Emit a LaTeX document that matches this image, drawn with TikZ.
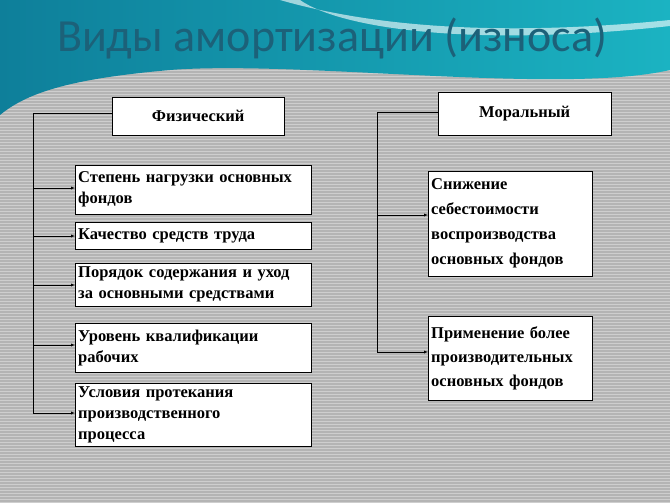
\documentclass[tikz,border=0pt]{standalone}
\usepackage{fontspec}
\setmainfont{Liberation Serif}
\newfontfamily\titlefont{Carlito}
\usepackage{xcolor}
\usetikzlibrary{patterns}
\definecolor{hatch}{HTML}{B4B4B4}
\definecolor{teal1}{HTML}{0E7F9A}
\definecolor{teal2}{HTML}{1BB3C2}
\definecolor{titlecol}{HTML}{1C6179}
\tikzset{
	fbox/.style={draw=black, fill=white, anchor=north west, inner sep=3pt,
		font=\bfseries\fontsize{16.5}{21}\selectfont, align=left},
	conn/.style={draw=black, thin},
	arr/.style={draw=black, thin, -latex}
}
\begin{document}
\begin{tikzpicture}[x=1pt, y=-1pt]
	\useasboundingbox (0,0) rectangle (670,503);
	\fill[hatch] (0,0) rectangle (670,503);
	\fill[pattern=horizontal lines, pattern color=white!35!hatch] (0,0) rectangle (670,503);
	\shade[left color=teal1, right color=teal2] (0,0) -- (670,0) -- (670,70) .. controls (560,95) and (300,60) .. (170,70) .. controls (80,78) and (30,90) .. (0,115) -- cycle;
	\fill[white, opacity=0.6] (280,0) .. controls (350,20) and (470,40) .. (670,20) -- (670,26) .. controls (470,48) and (340,28) .. (300,0) -- cycle;
	\node[titlecol, font=\titlefont\fontsize{46}{50}\selectfont] (title) at (332,38) {Виды амортизации (износа)};
	% left column
	\node[fbox, minimum width=172pt, minimum height=38pt, align=center, text width=164pt] (phys) at (112,97) {Физический};
	\node[fbox, text width=230pt, minimum height=49pt] (s1) at (75,165) {Степень нагрузки основных\\фондов};
	\node[fbox, text width=230pt, minimum height=27pt] (s2) at (75,222) {Качество средств труда};
	\node[fbox, text width=230pt, minimum height=43pt] (s3) at (75,263) {Порядок содержания и уход\\за основными средствами};
	\node[fbox, text width=230pt, minimum height=49pt] (s4) at (75,323) {Уровень квалификации\\рабочих};
	\node[fbox, text width=230pt, minimum height=63pt] (s5) at (75,383) {Условия протекания\\производственного\\процесса};
	\coordinate (ltop) at (33,113);
	\coordinate (lbot) at (33,413);
	\draw[conn] (phys.west |- ltop) -- (ltop) -- (lbot);
	\foreach \n/\y in {s1/188, s2/236, s3/285, s4/345, s5/413}
		\draw[arr] (33,\y) -- (\n.west |- 0,\y);
	% right column
	\node[fbox, minimum width=173pt, minimum height=43pt, align=center, text width=165pt] (moral) at (438,92) {Моральный};
	\node[fbox, text width=158pt, minimum height=105pt, font=\bfseries\fontsize{16.5}{25}\selectfont] (m1) at (428,171) {Снижение\\себестоимости\\воспроизводства\\основных фондов};
	\node[fbox, text width=158pt, minimum height=84pt, font=\bfseries\fontsize{16.5}{24}\selectfont] (m2) at (428,316) {Применение более\\производительных\\основных фондов};
	\coordinate (rtop) at (377,112);
	\coordinate (rbot) at (377,352);
	\draw[conn] (moral.west |- rtop) -- (rtop) -- (rbot);
	\draw[arr] (377,215) -- (m1.west |- 0,215);
	\draw[arr] (rbot) -- (m2.west |- rbot);
\end{tikzpicture}
\end{document}
